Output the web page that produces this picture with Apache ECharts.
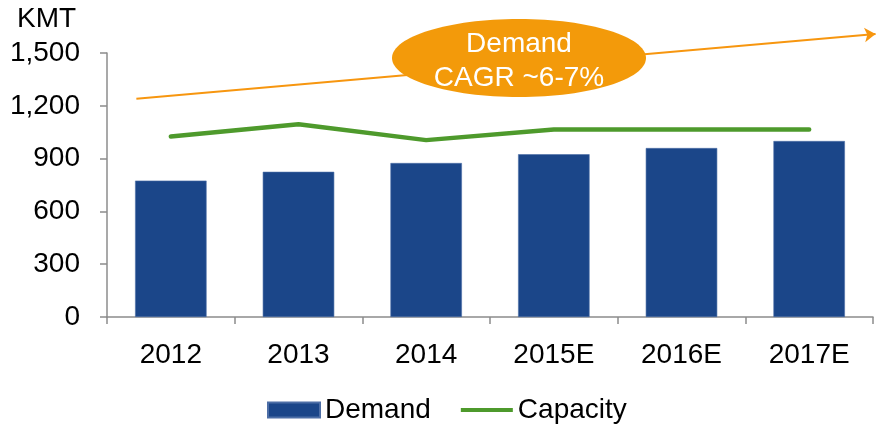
<!DOCTYPE html>
<html>
<head>
<meta charset="utf-8">
<script src="https://cdn.jsdelivr.net/npm/echarts@6/dist/echarts.min.js"></script>
<style>
  html, body { margin: 0; padding: 0; background: #fff; }
  #chart { width: 879px; height: 426px; }
</style>
</head>
<body>
<div id="chart"></div>
<script>
// data
const years = ["2012", "2013", "2014", "2015E", "2016E", "2017E"];
const demand = [775, 825, 875, 925, 960, 1000];
const capacity = [1025, 1095, 1005, 1065, 1065, 1065];
const yTicks = { min: 0, max: 1500, step: 300 };
// trend arrow: [category position, value]
const trendStart = [-0.27, 1240];
const trendEnd = [5.52, 1608];
const bubbleText = ["Demand", "CAGR ~6-7%"];

const font = "Liberation Sans, Arial, sans-serif";
const blue = "#1B4689";
const green = "#4E9A2C";
const orange = "#F7960F";
const axisGrey = "#8c8c8c";
const fs = 28;

const chart = echarts.init(document.getElementById("chart"));

chart.setOption({
  animation: false,
  textStyle: { fontFamily: font },
  title: {
    text: "KMT",
    left: 17,
    top: 5,
    padding: 0,
    textStyle: { fontFamily: font, fontSize: fs, fontWeight: "normal", color: "#000" },
  },
  grid: { left: 107, right: 6, top: 53, bottom: 109 },
  legend: {
    left: 267,
    top: 396,
    padding: 0,
    itemWidth: 52,
    itemHeight: 15,
    itemGap: 30,
    textStyle: { fontFamily: font, fontSize: fs, color: "#000" },
    data: [
      { name: "Demand", icon: "rect" },
      // thin line inside a 52x15 box
      { name: "Capacity", icon: "path://M0,0 M52,15 M0,5.5 L52,5.5 L52,9.5 L0,9.5 Z", itemStyle: { color: green } },
    ],
  },
  xAxis: [
    {
      type: "category",
      data: years,
      axisLine: { lineStyle: { color: axisGrey, width: 1.5 } },
      axisTick: { show: true, length: 7, lineStyle: { color: axisGrey, width: 1.5 } },
      axisLabel: { color: "#000", fontSize: fs, fontFamily: font, margin: 24 },
    },
    {
      type: "value",
      min: -0.5,
      max: 5.5,
      show: false,
    },
  ],
  yAxis: {
    type: "value",
    min: yTicks.min,
    max: yTicks.max,
    interval: yTicks.step,
    axisLine: { show: true, onZero: false, lineStyle: { color: axisGrey, width: 1.5 } },
    axisTick: { show: true, length: 7, lineStyle: { color: axisGrey, width: 1.5 } },
    splitLine: { show: false },
    axisLabel: {
      color: "#000",
      fontSize: fs,
      fontFamily: font,
      margin: 27,
      formatter: (v) => v.toLocaleString("en-US"),
    },
  },
  series: [
    {
      name: "Demand",
      type: "bar",
      data: demand,
      barWidth: "56%",
      itemStyle: { color: blue, borderColor: "#4d6ea6", borderWidth: 0.6 },
    },
    {
      name: "Capacity",
      type: "line",
      data: capacity,
      symbol: "none",
      color: green,
      lineStyle: { width: 4.5, color: green, cap: "round" },
    },
    {
      // demand trend arrow
      name: "trend",
      type: "lines",
      coordinateSystem: "cartesian2d",
      xAxisIndex: 1,
      yAxisIndex: 0,
      clip: false,
      silent: true,
      symbol: ["none", "arrow"],
      symbolSize: [9, 11],
      lineStyle: { color: orange, width: 2, opacity: 1, curveness: 0 },
      data: [{ coords: [trendStart, trendEnd] }],
    },
  ],
  graphic: [
    {
      type: "ellipse",
      shape: { cx: 519, cy: 58, rx: 127, ry: 39 },
      style: { fill: "#F39A0A" },
      z: 100,
    },
    {
      type: "text",
      x: 519,
      y: 61,
      z: 101,
      style: {
        text: bubbleText.join("\n"),
        fill: "#fff",
        fontSize: fs,
        fontFamily: font,
        lineHeight: 34,
        align: "center",
        verticalAlign: "middle",
      },
    },
  ],
});
</script>
</body>
</html>
